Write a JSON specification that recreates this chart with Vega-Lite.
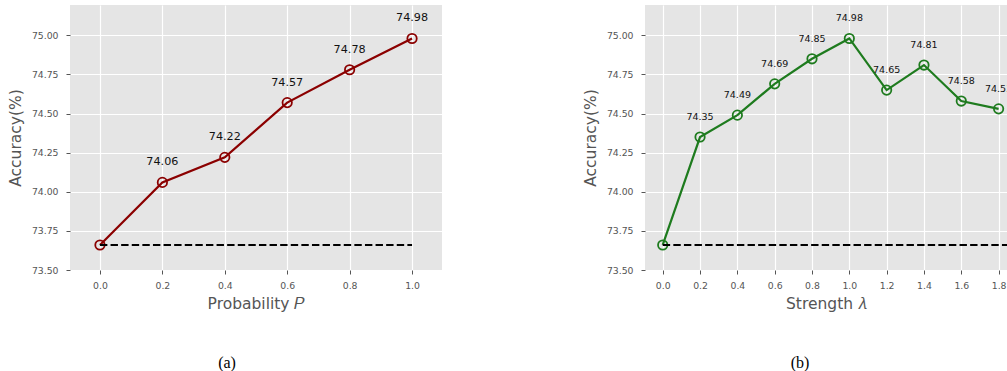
{
  "$schema": "https://vega.github.io/schema/vega-lite/v6.json",
  "padding": {"left": 8, "top": 5, "right": 0, "bottom": 0},
  "background": "white",
  "bounds": "flush",
  "spacing": 203,
  "datasets": {
    "probability": [
      {"p": 0.0, "acc": 73.66},
      {"p": 0.2, "acc": 74.06},
      {"p": 0.4, "acc": 74.22},
      {"p": 0.6, "acc": 74.57},
      {"p": 0.8, "acc": 74.78},
      {"p": 1.0, "acc": 74.98}
    ],
    "strength": [
      {"lambda": 0.0, "acc": 73.66},
      {"lambda": 0.2, "acc": 74.35},
      {"lambda": 0.4, "acc": 74.49},
      {"lambda": 0.6, "acc": 74.69},
      {"lambda": 0.8, "acc": 74.85},
      {"lambda": 1.0, "acc": 74.98},
      {"lambda": 1.2, "acc": 74.65},
      {"lambda": 1.4, "acc": 74.81},
      {"lambda": 1.6, "acc": 74.58},
      {"lambda": 1.8, "acc": 74.53}
    ],
    "baselineP": [{"from": 0.0, "to": 1.0, "acc": 73.66}],
    "baselineL": [{"from": 0.0, "to": 2.0, "acc": 73.66}]
  },
  "hconcat": [
    {
      "width": 372,
      "height": 265,
      "title": {"text": "(a)", "orient": "bottom", "anchor": "middle", "frame": "group", "dx": -29, "offset": 43},
      "layer": [
        {
          "data": {"name": "probability"},
          "mark": {"type": "line", "color": "#8B0000", "strokeWidth": 2.2},
          "encoding": {
            "x": {
              "field": "p", "type": "quantitative",
              "scale": {"domain": [-0.096, 1.096], "nice": false, "zero": false},
              "axis": {"values": [0, 0.2, 0.4, 0.6, 0.8, 1.0], "format": ".1f", "title": "Probability 𝑃"}
            },
            "y": {
              "field": "acc", "type": "quantitative",
              "scale": {"domain": [73.5, 75.194], "nice": false, "zero": false},
              "axis": {"values": [73.5, 73.75, 74.0, 74.25, 74.5, 74.75, 75.0], "format": ".2f", "title": "Accuracy(%)"}
            }
          }
        },
        {
          "data": {"name": "probability"},
          "mark": {"type": "point", "shape": "circle", "filled": false, "color": "#8B0000", "size": 88, "strokeWidth": 1.8, "opacity": 1},
          "encoding": {
            "x": {"field": "p", "type": "quantitative"},
            "y": {"field": "acc", "type": "quantitative"}
          }
        },
        {
          "data": {"name": "probability"},
          "transform": [{"filter": "datum.p > 0"}],
          "mark": {"type": "text", "dy": -20, "baseline": "middle", "align": "center", "font": "DejaVu Sans", "fontSize": 11.2, "color": "#111111"},
          "encoding": {
            "x": {"field": "p", "type": "quantitative"},
            "y": {"field": "acc", "type": "quantitative"},
            "text": {"field": "acc", "type": "quantitative", "format": ".2f"}
          }
        },
        {
          "data": {"name": "baselineP"},
          "mark": {"type": "rule", "color": "black", "strokeWidth": 2, "strokeDash": [7.4, 3.2]},
          "encoding": {
            "x": {"field": "from", "type": "quantitative"},
            "x2": {"field": "to"},
            "y": {"field": "acc", "type": "quantitative"}
          }
        }
      ]
    },
    {
      "width": 362,
      "height": 265,
      "title": {"text": "(b)", "orient": "bottom", "anchor": "middle", "frame": "group", "dx": -26, "offset": 43},
      "layer": [
        {
          "data": {"name": "strength"},
          "mark": {"type": "line", "color": "#1E7B1E", "strokeWidth": 2.2, "clip": true},
          "encoding": {
            "x": {
              "field": "lambda", "type": "quantitative",
              "scale": {"domain": [-0.095, 1.845], "nice": false, "zero": false},
              "axis": {"values": [0, 0.2, 0.4, 0.6, 0.8, 1.0, 1.2, 1.4, 1.6, 1.8], "format": ".1f", "title": "Strength 𝜆"}
            },
            "y": {
              "field": "acc", "type": "quantitative",
              "scale": {"domain": [73.5, 75.194], "nice": false, "zero": false},
              "axis": {"values": [73.5, 73.75, 74.0, 74.25, 74.5, 74.75, 75.0], "format": ".2f", "title": "Accuracy(%)"}
            }
          }
        },
        {
          "data": {"name": "strength"},
          "mark": {"type": "point", "shape": "circle", "filled": false, "color": "#1E7B1E", "size": 88, "strokeWidth": 1.8, "opacity": 1, "clip": true},
          "encoding": {
            "x": {"field": "lambda", "type": "quantitative"},
            "y": {"field": "acc", "type": "quantitative"}
          }
        },
        {
          "data": {"name": "strength"},
          "transform": [{"filter": "datum.lambda > 0"}],
          "mark": {"type": "text", "dy": -20, "baseline": "middle", "align": "center", "font": "DejaVu Sans", "fontSize": 9.5, "color": "#111111", "clip": true},
          "encoding": {
            "x": {"field": "lambda", "type": "quantitative"},
            "y": {"field": "acc", "type": "quantitative"},
            "text": {"field": "acc", "type": "quantitative", "format": ".2f"}
          }
        },
        {
          "data": {"name": "baselineL"},
          "mark": {"type": "rule", "color": "black", "strokeWidth": 2, "strokeDash": [7.4, 3.2], "clip": true},
          "encoding": {
            "x": {"field": "from", "type": "quantitative"},
            "x2": {"field": "to"},
            "y": {"field": "acc", "type": "quantitative"}
          }
        }
      ]
    }
  ],
  "resolve": {"scale": {"x": "independent", "y": "independent"}},
  "config": {
    "view": {"stroke": null, "fill": "#E5E5E5"},
    "axis": {
      "grid": true,
      "gridColor": "#FFFFFF",
      "gridWidth": 1.2,
      "gridOpacity": 1,
      "domain": false,
      "tickColor": "#555555",
      "tickSize": 4,
      "tickWidth": 1,
      "labelColor": "#555555",
      "labelFont": "DejaVu Sans",
      "labelFontSize": 9.3,
      "labelAngle": 0,
      "titleFont": "DejaVu Sans",
      "titleFontSize": 15.5,
      "titleFontWeight": "normal",
      "titleColor": "#555555"
    },
    "axisX": {"labelPadding": 7, "titlePadding": 6},
    "axisY": {"labelPadding": 8, "titlePadding": 8},
    "title": {"font": "Liberation Serif", "fontSize": 16, "fontWeight": "normal", "color": "#000000"}
  }
}
